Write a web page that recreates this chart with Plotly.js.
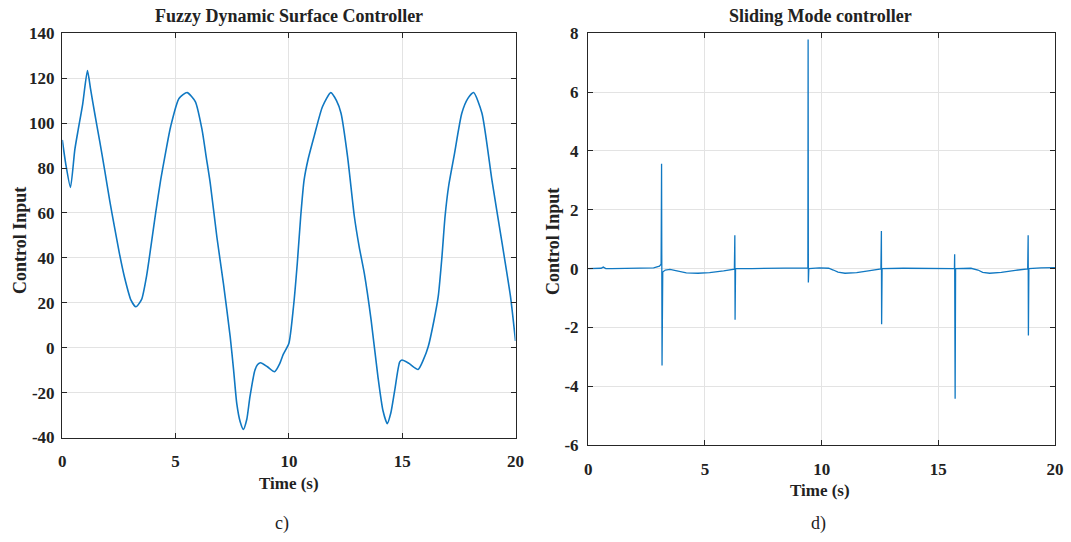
<!DOCTYPE html>
<html>
<head>
<meta charset="utf-8">
<script src="https://cdn.plot.ly/plotly-3.0.1.min.js"></script>
<style>html,body{margin:0;padding:0;background:#fff;}#chart{width:1071px;height:542px;}</style>
</head>
<body>
<div id="chart"></div>
<script>
// ---- Data ----
const fdscTime = [0, 0.15, 0.36, 0.55, 0.70, 0.90, 1.11, 1.25, 1.43, 1.65, 1.87, 2.10, 2.30, 2.52, 2.74, 3.03, 3.25, 3.50, 3.72, 3.91, 4.12, 4.34, 4.56, 4.78, 5.15, 5.51, 5.87, 6.17, 6.35, 6.53, 6.82, 7.11, 7.41, 7.56, 7.70, 7.85, 7.99, 8.14, 8.28, 8.50, 8.62, 8.75, 9.05, 9.37, 9.60, 9.75, 10.0, 10.2, 10.37, 10.52, 10.67, 10.85, 11.11, 11.48, 11.85, 12.1, 12.30, 12.59, 12.89, 13.10, 13.33, 13.63, 13.93, 14.15, 14.34, 14.5, 14.67, 14.89, 14.99, 15.3, 15.70, 15.95, 16.15, 16.4, 16.59, 16.75, 16.89, 17.05, 17.30, 17.63, 17.9, 18.15, 18.52, 18.96, 19.41, 19.78, 20];
const fdscInput = [92.5, 82, 71.4, 88, 97, 108.5, 123.4, 115, 104.4, 92, 79.1, 65, 53.9, 42, 31.6, 21.2, 18.2, 21.5, 32, 45, 60, 74.6, 87, 98.4, 111, 113.6, 109.6, 96.9, 85, 73.2, 49.4, 28.6, 4.8, -10, -24.9, -33, -36.4, -32, -21.9, -10, -7.5, -6.7, -8.5, -10.7, -7, -3, 2, 18, 37.5, 58.3, 74.6, 84, 94, 107.3, 113.6, 110, 104.4, 85, 58.3, 45, 33, 12.2, -13, -28, -33.8, -29, -19, -6.3, -5.5, -7, -9.7, -5, 0.5, 12, 22.8, 40, 58.3, 72, 86, 104.4, 111, 113.6, 104.4, 74.6, 46.4, 22.7, 3];

const smcTime = [0, 0.30, 0.55, 0.64, 0.75, 1.0, 2.0, 2.8, 3.05, 3.12, 3.14, 3.16, 3.19, 3.30, 3.50, 3.80, 4.20, 4.70, 5.20, 5.80, 6.26, 6.28, 6.29, 6.31, 7.0, 8.0, 9.0, 9.41, 9.42, 9.43, 9.45, 9.90, 10.30, 10.50, 10.70, 11.0, 11.5, 12.0, 12.54, 12.56, 12.57, 12.59, 13.5, 14.5, 15.69, 15.70, 15.72, 15.74, 16.4, 16.7, 16.9, 17.2, 17.7, 18.3, 18.83, 18.85, 18.86, 18.88, 19.4, 20];
const smcInput = [0, 0, 0.01, 0.05, 0, 0, 0, 0.02, 0.08, 0.15, 3.56, -3.3, -0.12, -0.05, -0.03, -0.08, -0.15, -0.16, -0.14, -0.08, -0.02, 1.13, -1.74, 0, 0, 0.01, 0, 0.02, 7.79, -0.47, 0, 0.02, 0.01, -0.05, -0.12, -0.16, -0.14, -0.08, -0.01, 1.28, -1.89, 0, 0.01, 0, 0, 0.49, -4.43, 0, 0.01, -0.05, -0.13, -0.16, -0.13, -0.06, -0.01, 1.13, -2.28, 0, 0.02, 0.03];

const xTicks = [0, 5, 10, 15, 20];
const xTickText = ["0", "5", "10", "15", "20"];
const leftYTicks = [-40, -20, 0, 20, 40, 60, 80, 100, 120, 140];
const leftYTickText = ["-40", "-20", "0", "20", "40", "60", "80", "100", "120", "140"];
const rightYTicks = [-6, -4, -2, 0, 2, 4, 6, 8];
const rightYTickText = ["-6", "-4", "-2", "0", "2", "4", "6", "8"];
const titles = ["Fuzzy Dynamic Surface Controller", "Sliding Mode controller"];
const yLabel = "Control Input";
const xLabel = "Time (s)";
const panelLabels = ["c)", "d)"];

// ---- Styling ----
const W = 1071, H = 542;
const FONT = "Liberation Serif, Times New Roman, serif";
const BLUE = "#1078c2";
const px = v => v / W;
const py = v => 1 - v / H;

function axisBase(extra) {
  return Object.assign({
    showline: true, mirror: 'ticks', linecolor: '#262626', linewidth: 1.3,
    ticks: 'inside', ticklen: 5, tickcolor: '#262626', tickwidth: 1,
    showgrid: true, gridcolor: '#e3e3e3', gridwidth: 1,
    zeroline: false, fixedrange: true,
    tickfont: {family: FONT, size: 17, color: '#222', weight: 'bold'}
  }, extra);
}

const traces = [
  {x: fdscTime, y: fdscInput, type: 'scatter', mode: 'lines', xaxis: 'x', yaxis: 'y',
   line: {color: BLUE, width: 1.6, shape: 'spline', smoothing: 0.6}, hoverinfo: 'skip'},
  {x: smcTime, y: smcInput, type: 'scatter', mode: 'lines', xaxis: 'x2', yaxis: 'y2',
   line: {color: BLUE, width: 1.3}, hoverinfo: 'skip'}
];

function ann(text, x, y, size, bold, angle) {
  return {text: text, x: x, y: y, xref: 'paper', yref: 'paper', showarrow: false,
          xanchor: 'center', yanchor: 'middle', textangle: angle || 0,
          font: {family: FONT, size: size, color: '#222', weight: bold ? 'bold' : 'normal'}};
}

const layout = {
  width: W, height: H,
  margin: {l: 0, r: 0, t: 0, b: 0},
  paper_bgcolor: '#fff', plot_bgcolor: '#fff',
  showlegend: false,
  xaxis: axisBase({domain: [px(62.3), px(515.5)], range: [0, 20], tickvals: xTicks, ticktext: xTickText, anchor: 'y', ticklabelstandoff: 8}),
  yaxis: axisBase({domain: [py(437.5), py(33.3)], range: [-40, 140], tickvals: leftYTicks, ticktext: leftYTickText, anchor: 'x', ticklabelstandoff: 3}),
  xaxis2: axisBase({domain: [px(588.3), px(1055)], range: [0, 20], tickvals: xTicks, ticktext: xTickText, anchor: 'y2', ticklabelstandoff: 8}),
  yaxis2: axisBase({domain: [py(445), py(33.3)], range: [-6, 8], tickvals: rightYTicks, ticktext: rightYTickText, anchor: 'x2', ticklabelstandoff: 5}),
  annotations: [
    ann(titles[0], px(289), py(16), 18, true),
    ann(titles[1], px(820), py(16), 18, true),
    ann(yLabel, px(20), py(241), 18, true, -90),
    ann(yLabel, px(553), py(242), 18, true, -90),
    ann(xLabel, px(289), py(483), 17, true),
    ann(xLabel, px(820), py(490), 17, true),
    ann(panelLabels[0], px(282), py(523), 18, false),
    ann(panelLabels[1], px(818), py(523), 18, false)
  ]
};

Plotly.newPlot('chart', traces, layout, {displayModeBar: false, staticPlot: true});
</script>
</body>
</html>
